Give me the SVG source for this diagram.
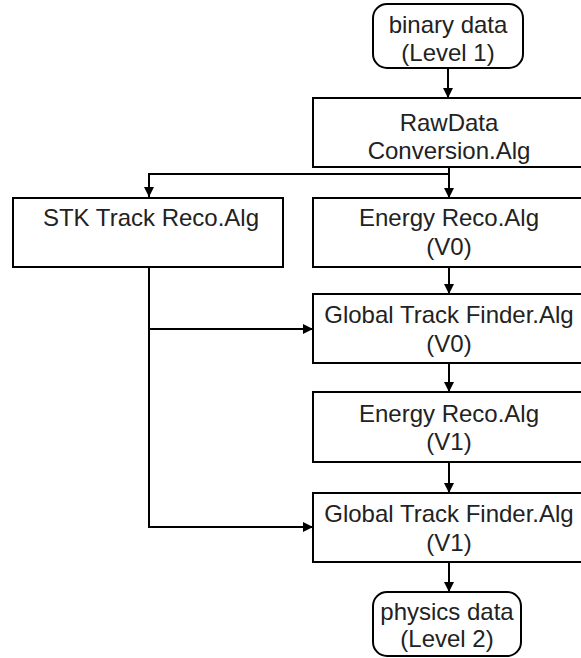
<svg xmlns="http://www.w3.org/2000/svg" width="581" height="658" viewBox="0 0 581 658">
<style>
.box{fill:#fff;stroke:#000;stroke-width:2}
.t{font-family:"Liberation Sans",Arial,sans-serif;font-size:24px;fill:#222;text-anchor:middle}
.c{fill:none;stroke:#000;stroke-width:2}
</style>
<defs>
<marker id="ah" markerUnits="userSpaceOnUse" markerWidth="10" markerHeight="10" viewBox="0 0 10 10" refX="10" refY="5" orient="auto">
<path d="M0,0 L10,5 L0,10 z" fill="#000"/>
</marker>
</defs>
<rect width="581" height="658" fill="#fff"/>
<g id="connectors">
<path class="c" d="M448,68 V98" marker-end="url(#ah)"/>
<path class="c" d="M449,167 V198" marker-end="url(#ah)"/>
<path class="c" d="M449,174 H149 V197" marker-end="url(#ah)"/>
<path class="c" d="M449,267 V294" marker-end="url(#ah)"/>
<path class="c" d="M449,363 V392" marker-end="url(#ah)"/>
<path class="c" d="M449,462 V493" marker-end="url(#ah)"/>
<path class="c" d="M449,562 V592" marker-end="url(#ah)"/>
<path class="c" d="M149,267 V527 H313" marker-end="url(#ah)"/>
<path class="c" d="M149,329 H313" marker-end="url(#ah)"/>
</g>
<g id="binary">
<rect class="box" x="373" y="4" width="150" height="64" rx="14"/>
<text class="t" x="448" y="33">binary data</text>
<text class="t" x="448" y="61">(Level 1)</text>
</g>
<g id="rawdata">
<rect class="box" x="313" y="98" width="272" height="69"/>
<text class="t" x="449" y="131">RawData</text>
<text class="t" x="449" y="159">Conversion.Alg</text>
</g>
<g id="stk">
<rect class="box" x="13" y="198" width="270" height="69"/>
<text class="t" x="151" y="226">STK Track Reco.Alg</text>
</g>
<g id="energy0">
<rect class="box" x="313" y="198" width="272" height="69"/>
<text class="t" x="449" y="226">Energy Reco.Alg</text>
<text class="t" x="449" y="255">(V0)</text>
</g>
<g id="gtf0">
<rect class="box" x="313" y="294" width="272" height="69"/>
<text class="t" x="449" y="323">Global Track Finder.Alg</text>
<text class="t" x="449" y="352">(V0)</text>
</g>
<g id="energy1">
<rect class="box" x="313" y="392" width="272" height="70"/>
<text class="t" x="449" y="422">Energy Reco.Alg</text>
<text class="t" x="449" y="450">(V1)</text>
</g>
<g id="gtf1">
<rect class="box" x="313" y="493" width="272" height="69"/>
<text class="t" x="449" y="522">Global Track Finder.Alg</text>
<text class="t" x="449" y="551">(V1)</text>
</g>
<g id="physics">
<rect class="box" x="373" y="592" width="148" height="64" rx="14"/>
<text class="t" x="447" y="620">physics data</text>
<text class="t" x="447" y="647">(Level 2)</text>
</g>
</svg>
